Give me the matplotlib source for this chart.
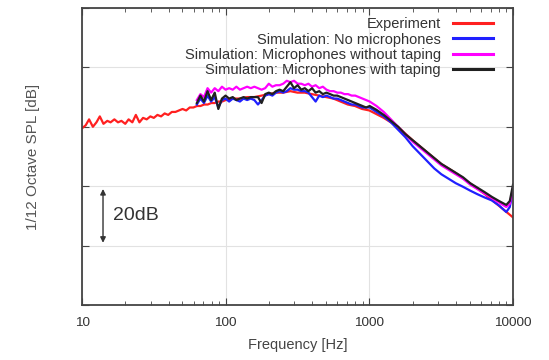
import numpy as np
import matplotlib.pyplot as plt

plt.rcParams['font.family'] = ['Liberation Sans', 'DejaVu Sans']

# measured spectrum (1/12 octave, dB)
f_exp = [10, 10.6, 11.2, 11.9, 12.6, 13.3, 14.1, 15, 15.8, 16.8, 17.8, 18.8, 20, 21.1,
         22.4, 23.7, 25.1, 26.6, 28.2, 29.9, 31.6, 33.5, 35.5, 37.6, 39.8, 42.2, 44.7,
         47.3, 50.1, 53.1, 56.2, 59.6, 63.1, 66.8, 70.8, 75, 79.4, 84.1, 89.1, 94.4, 100,
         112, 126, 141, 158, 178, 200, 224, 251, 282, 316, 355, 398, 447, 501, 562, 631,
         708, 794, 891, 1000, 1260, 1580, 2000, 2510, 3160, 3980, 5010, 6310, 7940, 10000]
spl_exp = [59.5, 60.5, 62.5, 60, 61.5, 63.5, 61, 62, 61.5, 62.5, 61.5, 62, 61, 62.5,
           61.5, 64, 61.5, 63, 62.5, 63.5, 63, 64, 63.5, 64.5, 64, 65, 65,
           65.5, 66, 65.5, 66.5, 66.5, 67, 67, 67.5, 67.5, 68, 68, 68.5, 68.5, 69,
           69.5, 69.5, 70, 70, 70.5, 71, 71.5, 71.5, 72, 71.5, 71.5, 71, 70.5, 70, 69.5, 68.5,
           67.5, 67, 66, 65.5, 63, 60, 55.5, 51.5, 47.5, 44.5, 41, 37.5, 33.5, 29.5]

f_sim = [63, 66.7, 70.6, 74.8, 79.2, 83.9, 88.9, 94.2, 99.8, 105.7, 112, 118.7, 125.7,
         133.2, 141.1, 149.5, 158.4, 167.8, 177.8, 188.4, 199.6, 211.4, 224, 237.3, 251.4,
         266.4, 282.2, 299, 316.8, 335.6, 355.6, 376.7, 399.1, 422.9, 448, 474.6, 502.9,
         532.8, 564.4, 598, 633.6, 671.2, 711.2, 753.4, 798.2, 845.7, 896, 949.3, 1005.7,
         1122, 1260, 1414, 1587, 1782, 2000, 2245, 2520, 2828, 3175, 3564, 4000, 4490,
         5040, 5657, 6350, 7127, 8000, 8980, 9500, 10000]

spl_nomic = [67.5, 69.5, 68, 70.5, 68.5, 70, 66.5, 69, 69.5, 68.5, 69.5, 69, 68.5,
             69.5, 69, 69.5, 69, 67.5, 69, 70.5, 71, 70.5, 71.5, 72, 71.5,
             72, 73, 72.5, 72.5, 72, 72, 71.5, 70, 68.5, 70.5, 70, 70.5,
             70, 69.5, 69.5, 69, 68.5, 68, 67.5, 67.5, 67, 66.5, 66.5, 66.5,
             65, 63.5, 61.5, 59, 56.5, 53.5, 51, 48.5, 46, 44, 42.5, 41, 39.8,
             38.5, 37.3, 36.2, 35.2, 33.5, 31.3, 33, 38.7]

spl_notape = [69, 71, 70, 73, 71.5, 73, 72, 73.5, 72.5, 73, 72.5, 73.5, 72.5,
              73, 73.5, 73, 73.5, 73, 72.5, 73, 74.5, 73.5, 74, 74, 74.5,
              75.5, 75, 75.5, 74.5, 74.5, 74, 74.5, 73.5, 74, 73, 73.5, 72.5,
              72, 72, 71.5, 71.5, 71, 71, 70.5, 70.5, 70, 69.5, 69, 68.5,
              67, 65, 62.5, 60, 57.5, 55, 53, 51, 49, 47, 45.5, 44, 42.5,
              40.5, 39, 37.5, 36, 34.5, 33, 34, 39.5]

spl_tape = [68, 70.5, 68.5, 72, 69, 71.5, 66, 69.5, 70.5, 69.5, 70, 69, 69.5,
            70, 69.5, 70, 70, 70, 68, 71, 71.5, 71, 72, 72.5, 72,
            73.5, 75, 73, 74, 72.5, 73, 72, 73, 71.5, 72, 71, 71.5,
            71, 70.5, 70.5, 70, 69.5, 69, 68.5, 68, 67.5, 67, 66.5, 67,
            65.7, 64, 62, 60, 57.5, 55.5, 53.5, 51.5, 49.5, 47.5, 46, 44.5, 43,
            41, 39.5, 38, 36.4, 35, 33.7, 35, 40.5]

fig = plt.figure(figsize=(5.49, 3.6), dpi=100)
ax = fig.add_axes([0.1494, 0.1528, 0.785, 0.825])

ax.plot(f_exp, spl_exp, color='#ff2020', lw=1.6, label='Experiment')
ax.plot(f_sim, spl_nomic, color='#2020ff', lw=1.6, label='Simulation: No microphones')
ax.plot(f_sim, spl_notape, color='#ff00ff', lw=1.6, label='Simulation: Microphones without taping')
ax.plot(f_sim, spl_tape, color='#202020', lw=1.6, label='Simulation: Microphones with taping')

ax.set_xscale('log')
ax.set_xlim(10, 10000)
ax.set_ylim(0, 100)
ax.set_yticks([0, 20, 40, 60, 80, 100])
ax.set_yticklabels([])
ax.set_xticks([10, 100, 1000, 10000])
ax.set_xticklabels(['10', '100', '1000', '10000'])
ax.tick_params(which='both', direction='in', top=True, right=True, colors='#444444',
               labelcolor='#333333', labelsize=9.7)
ax.tick_params(which='major', length=5)
ax.tick_params(which='minor', length=3)
ax.tick_params(axis='x', pad=9)
ax.grid(which='major', color='#e2e2e2', lw=0.8)
for s in ax.spines.values():
    s.set_color('#444444')
    s.set_linewidth(1.3)

ax.set_xlabel('Frequency [Hz]', fontsize=10.5, color='#444444', labelpad=6)
ax.set_ylabel('1/12 Octave SPL [dB]', fontsize=11, color='#555555', labelpad=27)

# 20 dB scale bar
ax.annotate('', xy=(14, 20), xytext=(14, 40),
            arrowprops=dict(arrowstyle='<|-|>', color='#333333', lw=1, mutation_scale=8))
ax.text(16.5, 30, '20dB', fontsize=14, color='#333333', va='center', ha='left')

leg = ax.legend(loc='upper right', bbox_to_anchor=(0.975, 0.998), frameon=False,
                markerfirst=False, fontsize=10.5, handlelength=2.8, handletextpad=0.8,
                labelspacing=0.08, borderaxespad=0.2)
for t in leg.get_texts():
    t.set_color('#333333')
for l in leg.get_lines():
    l.set_linewidth(2.2)

fig.savefig('out.png', dpi=100)
